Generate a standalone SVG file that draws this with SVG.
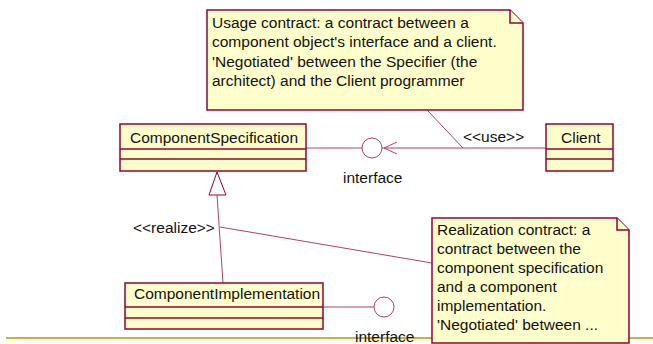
<svg xmlns="http://www.w3.org/2000/svg" width="653" height="344" viewBox="0 0 653 344">
<style>
.box{fill:#FFFFCC;stroke:#990033;stroke-width:1.5}
.note{fill:#FFFFCC;stroke:#990033;stroke-width:1.5}
.ln{fill:none;stroke:#B0406A;stroke-width:1}
.iface{fill:#FFFFFF;stroke:#B0406A;stroke-width:1}
text{font-family:"Liberation Sans",Arial,sans-serif;font-size:15.5px;fill:#111111}
</style>
<rect width="653" height="344" fill="#FFFFFF"/>
<line x1="6" y1="338" x2="653" y2="338" stroke="#D4B030" stroke-width="2"/>
<g id="connectors">
<line class="ln" x1="306" y1="148" x2="362" y2="148"/>
<line class="ln" x1="382" y1="148" x2="546" y2="148"/>
<polyline class="ln" points="397,142 384,148 397,154"/>
<line class="ln" x1="427" y1="110" x2="463" y2="148"/>
<polygon points="217,172 209,195 226,195" fill="#FFFFFF" stroke="#990033" stroke-width="1"/>
<line class="ln" x1="217" y1="195" x2="223" y2="283"/>
<line class="ln" x1="220" y1="227" x2="432" y2="263"/>
<line class="ln" x1="323" y1="307" x2="374" y2="307"/>
<circle class="iface" cx="372" cy="148" r="10"/>
<circle class="iface" cx="384" cy="307" r="10"/>
<text x="463" y="142">&lt;&lt;use&gt;&gt;</text>
<text x="133" y="233">&lt;&lt;realize&gt;&gt;</text>
</g>
<g id="note-usage">
<polygon class="note" points="207,10 510,10 523,23 523,110 207,110"/>
<polyline class="note" points="510,10 510,23 523,23"/>
<text x="212" y="28">Usage contract: a contract between a</text>
<text x="212" y="47">component object's interface and a client.</text>
<text x="212" y="67">'Negotiated' between the Specifier (the</text>
<text x="212" y="86">architect) and the Client programmer</text>
</g>
<g id="ComponentSpecification">
<rect class="box" x="120" y="124" width="186" height="47"/>
<line class="box" x1="120" y1="149" x2="306" y2="149"/>
<line class="box" x1="120" y1="159" x2="306" y2="159"/>
<text x="130" y="143">ComponentSpecification</text>
</g>
<g id="Client">
<rect class="box" x="546" y="124" width="67" height="47"/>
<line class="box" x1="546" y1="149" x2="613" y2="149"/>
<line class="box" x1="546" y1="159" x2="613" y2="159"/>
<text x="561" y="143">Client</text>
</g>
<g id="interface1">
<text x="343" y="183">interface</text>
</g>
<g id="ComponentImplementation">
<rect class="box" x="125" y="283" width="198" height="46"/>
<line class="box" x1="125" y1="307" x2="323" y2="307"/>
<line class="box" x1="125" y1="318" x2="323" y2="318"/>
<text x="134" y="299">ComponentImplementation</text>
</g>
<g id="note-realization">
<polygon class="note" points="432,218 617,218 629,230 629,343 432,343"/>
<polyline class="note" points="617,218 617,230 629,230"/>
<text x="437" y="235">Realization contract: a</text>
<text x="437" y="254">contract between the</text>
<text x="437" y="273">component specification</text>
<text x="437" y="292">and a component</text>
<text x="437" y="311">implementation.</text>
<text x="437" y="330">'Negotiated' between ...</text>
</g>
<g id="interface2">
<text x="355" y="342">interface</text>
</g>
</svg>
